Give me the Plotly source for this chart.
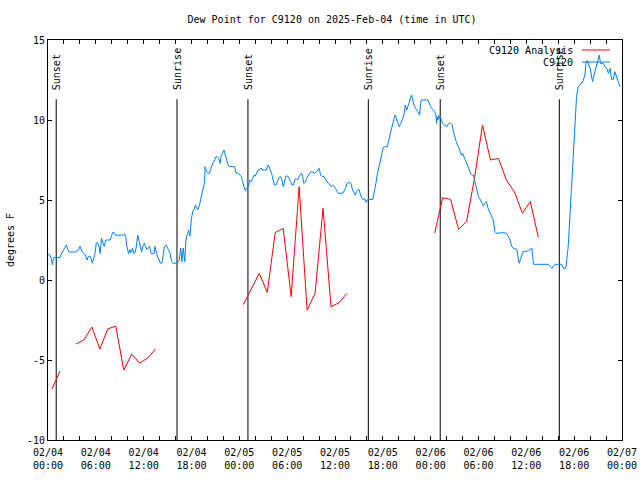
import pandas as pd
import plotly.graph_objects as go

BASE = pd.Timestamp("2025-02-04 00:00")

# ---- Analysis (red) : hours after 02/04 00:00 UTC, None = gap
an_hours = [0.5, 1.5, None,
            3.5, 4.5, 5.5, 6.5, 7.5, 8.5, 9.5, 10.5, 11.5, 12.5, 13.5, None,
            24.5, 25.5, 26.5, 27.5, 28.5, 29.5, 30.5, 31.5, 32.5, 33.5, 34.5, 35.5, 36.5, 37.5, None,
            48.5, 49.5, 50.5, 51.5, 52.5, 53.5, 54.5, 55.5, 56.5, 57.5, 58.5, 59.5, 60.5, 61.5]
an_vals = [-6.8, -5.7, None,
           -4.0, -3.75, -2.94, -4.31, -3.06, -2.88, -5.63, -4.63, -5.19, -4.88, -4.31, None,
           -1.54, -0.55, 0.42, -0.77, 2.96, 3.23, -1.04, 5.83, -1.88, -0.83, 4.48, -1.67, -1.42, -0.83, None,
           2.92, 5.14, 5.04, 3.17, 3.64, 6.36, 9.69, 7.5, 7.6, 6.25, 5.52, 4.17, 4.9, 2.67]

# ---- Observations (blue)
ob_hours = [0.0, 0.25, 0.4, 0.55, 0.7, 1.1, 1.5, 1.6, 1.8, 2.05, 2.3, 2.5, 2.65, 3.0, 3.4, 3.8, 4.0, 4.1,
            4.3, 4.55, 4.7, 4.9, 5.05, 5.25, 5.4, 5.55, 5.7, 5.9, 6.05, 6.2, 6.4, 6.55, 6.7, 6.9, 7.05,
            7.25, 7.4, 7.8, 8.0, 8.15, 8.3, 8.5, 8.8, 9.4, 9.6, 9.75, 9.9, 10.1, 10.25, 10.4, 10.6, 10.75,
            10.9, 11.05, 11.25, 11.4, 11.6, 11.75, 11.9, 12.1, 12.25, 12.4, 12.6, 12.75, 12.95, 13.1,
            13.3, 13.4, 13.6, 13.75, 13.95, 14.1, 14.3, 14.45, 14.6, 14.8, 14.95, 15.1, 15.3, 15.5,
            15.65, 16.2, 16.45, 16.65, 16.8, 16.97, 17.15, 17.3, 17.5, 17.65, 17.7, 17.8, 17.97, 18.15,
            18.3, 18.5, 18.65, 18.8, 19.0, 19.15, 19.3, 19.5, 19.65, 19.7, 19.9, 20.07, 20.25, 20.4,
            20.57, 20.7, 20.9, 21.07, 21.25, 21.4, 21.6, 21.7, 21.9, 22.07, 22.25, 22.4, 22.6, 22.75,
            23.25, 23.4, 23.6, 23.9, 24.08, 24.25, 24.4, 24.6, 24.75, 24.9, 25.1, 25.25, 25.35, 25.5,
            25.7, 25.85, 26.0, 26.2, 26.35, 26.5, 26.7, 26.85, 27.4, 27.6, 27.75, 27.95, 28.1, 28.25,
            28.4, 28.6, 28.75, 29.0, 29.2, 29.35, 29.5, 29.7, 29.85, 30.05, 30.25, 30.45, 30.6, 30.8,
            30.95, 31.1, 31.3, 31.45, 31.6, 31.8, 31.95, 32.1, 32.3, 32.45, 32.6, 32.8, 32.95, 33.1,
            33.3, 33.45, 33.7, 33.9, 34.0, 34.2, 34.4, 34.55, 34.7, 34.9, 35.0, 35.2, 35.4, 35.5, 35.7,
            35.85, 36.05, 36.2, 36.4, 37.0, 37.1, 37.3, 37.5, 37.6, 37.9, 38.05, 38.2, 38.4, 38.55,
            38.7, 38.9, 39.05, 39.2, 39.4, 39.55, 39.7, 39.9, 40.05, 40.2, 40.75, 41.0, 41.15, 41.3,
            41.45, 41.6, 41.75, 41.9, 42.05, 42.2, 42.55, 42.75, 42.9, 43.05, 43.25, 43.4, 43.55,
            43.75, 43.9, 44.05, 44.25, 44.4, 44.6, 44.75, 44.8, 45.0, 45.15, 45.3, 45.5, 45.6, 45.75,
            45.9, 46.1, 46.25, 46.4, 46.6, 46.75, 46.8, 47.65, 47.8, 48.0, 48.15, 48.3, 48.5, 48.65,
            48.75, 48.8, 48.9, 49.0, 49.1, 49.2, 49.35, 49.5, 49.7, 49.85, 50.0, 50.2, 50.3, 50.5,
            50.7, 50.85, 51.0, 51.2, 51.35, 51.5, 51.7, 51.85, 52.0, 52.2, 52.35, 52.5, 52.7, 52.85,
            53.0, 53.2, 53.35, 53.5, 53.65, 53.8, 54.0, 54.2, 54.4, 54.6, 54.8, 55.0, 55.2, 55.45,
            55.65, 55.85, 56.05, 56.3, 57.1, 57.5, 57.75, 57.95, 58.17, 58.4, 58.8, 59.1, 59.3, 59.6,
            60.25, 60.5, 60.7, 60.9, 62.75, 63.2, 63.6, 64.45, 64.65, 64.95, 65.05, 65.25, 65.5, 65.7,
            65.9, 66.1, 66.3, 66.5, 66.9, 67.15, 67.35, 67.5, 67.65, 68.0, 68.3, 68.6, 68.9, 69.15,
            69.3, 69.65, 69.85, 70.1, 70.3, 70.5, 70.7, 70.9, 71.1, 71.3, 71.5, 71.75]
ob_vals = [1.6, 1.55, 1.35, 0.95, 1.4, 1.4, 1.4, 1.55, 1.75, 2.0, 2.2, 1.9, 1.75, 1.75, 1.75, 1.85, 2.1, 2.0,
           1.75, 1.65, 1.55, 1.25, 1.45, 1.5, 1.35, 1.05, 1.25, 1.65, 2.3, 2.35, 2.1, 1.65, 2.6, 2.3, 2.1,
           2.5, 2.5, 2.5, 2.8, 3.0, 2.95, 2.8, 2.8, 2.8, 2.9, 2.7, 2.1, 1.65, 1.9, 1.7, 2.0, 1.65,
           1.7, 2.0, 2.8, 2.5, 2.1, 1.75, 2.1, 2.3, 2.1, 1.9, 2.0, 2.1, 1.65, 1.65,
           1.65, 2.1, 1.65, 1.45, 1.25, 1.05, 1.05, 1.45, 2.1, 2.2, 2.0, 1.9, 1.7, 1.15,
           1.05, 1.05, 1.2, 2.0, 1.15, 2.0, 1.15, 2.5, 2.9, 3.1, 2.95, 2.75, 3.75, 4.27,
           4.38, 4.69, 4.48, 4.38, 4.69, 5.0, 5.42, 5.73, 6.15, 7.08, 6.77, 6.67, 6.67, 6.92,
           7.19, 7.33, 7.5, 7.71, 7.71, 7.6, 7.29, 7.71, 7.92, 8.13, 7.8, 7.5, 7.19, 7.1,
           7.1, 7.08, 6.67, 6.67, 6.56, 6.46, 6.15, 5.83, 5.58, 5.73, 5.83, 6.08, 6.25, 6.15,
           6.35, 6.56, 6.5, 6.67, 6.88, 6.88, 7.0, 6.88, 6.88, 7.19, 7.08, 6.77, 6.56, 6.2,
           5.94, 5.94, 6.15, 6.42, 6.46, 6.25, 5.83, 6.25, 6.5, 6.5, 6.35, 6.15, 5.94, 5.94,
           6.25, 6.35, 6.25, 6.42, 6.56, 6.67, 6.46, 6.04, 6.15, 6.35, 6.46, 6.67, 6.77, 6.77,
           6.71, 6.67, 6.77, 6.88, 6.98, 6.56, 6.46, 6.5, 6.35, 6.25, 6.15, 6.04, 5.88, 5.83, 5.94,
           5.88, 5.73, 5.58, 5.42, 5.42, 5.52, 5.73, 6.04, 6.08, 6.08, 5.94, 5.63, 5.42, 5.31,
           5.52, 5.67, 5.63, 5.31, 5.1, 5.0, 5.1, 4.85, 5.0, 5.04, 5.04, 5.6, 6.1, 6.6,
           6.9, 7.2, 7.6, 7.92, 8.29, 8.33, 8.33, 8.75, 9.17, 9.48, 9.9, 10.1, 10.31,
           10.0, 9.79, 9.58, 9.79, 10.0, 10.21, 10.63, 10.94, 10.63, 10.83, 11.15, 11.35, 11.56, 11.25,
           10.94, 10.73, 10.63, 10.52, 10.31, 10.83, 11.25, 11.25, 11.04, 10.83, 10.73, 10.63, 10.52, 10.31,
           9.79, 10.21, 10.0, 10.31, 10.1, 10.21, 10.0, 9.79, 9.69, 9.69, 9.58, 9.69, 9.79, 9.79,
           9.69, 9.27, 8.96, 8.65, 8.44, 8.33, 8.02, 7.8, 7.92, 7.71, 7.5, 7.29, 7.08, 6.88,
           6.67, 6.56, 6.56, 6.25, 5.94, 5.63, 5.21, 5.05, 4.79, 4.63, 4.79, 4.9, 4.48, 4.17,
           3.96, 3.75, 3.02, 2.92, 2.96, 2.92, 2.71, 2.5, 2.08, 1.98, 1.92, 1.04, 1.35, 1.77,
           1.83, 1.9, 1.98, 0.98, 0.98, 0.73, 0.98, 0.98, 0.73, 0.73, 1.25, 2.08, 4.27, 6.25,
           7.92, 9.79, 11.46, 12.08, 12.29, 12.5, 12.81, 13.65, 13.71, 13.23, 12.4, 13.02, 13.54, 14.06,
           13.54, 13.54, 13.33, 13.23, 12.92, 13.23, 12.54, 12.54, 13.02, 12.71, 12.5, 12.08]

# ---- Sun events
sun_labels = ["Sunset", "Sunrise", "Sunset", "Sunrise", "Sunset", "Sunrise"]
sun_hours = [1.03, 16.18, 25.08, 40.18, 49.2, 64.14]
sun_line_top = 11.3
sun_text_base = 11.75

# ---- Axes ticks
x_tick_hours = [0, 6, 12, 18, 24, 30, 36, 42, 48, 54, 60, 66, 72]
x_tick_text = ["02/04<br>00:00", "02/04<br>06:00", "02/04<br>12:00", "02/04<br>18:00",
               "02/05<br>00:00", "02/05<br>06:00", "02/05<br>12:00", "02/05<br>18:00",
               "02/06<br>00:00", "02/06<br>06:00", "02/06<br>12:00", "02/06<br>18:00",
               "02/07<br>00:00"]
y_tick_vals = [-10, -5, 0, 5, 10, 15]
y_tick_text = ["-10", "-5", "0", "5", "10", "15"]

def to_time(hours):
    return [None if h is None else BASE + pd.Timedelta(hours=h) for h in hours]

FONT = "DejaVu Sans Mono"
RED = "#ff0000"
BLUE = "#0080ff"

fig = go.Figure()

# sun event lines
sx, sy = [], []
for h in sun_hours:
    t = BASE + pd.Timedelta(hours=h)
    sx += [t, t, None]
    sy += [-10, sun_line_top, None]
fig.add_trace(go.Scatter(x=sx, y=sy, mode="lines", line=dict(color="black", width=1),
                         showlegend=False, hoverinfo="skip"))

fig.add_trace(go.Scatter(x=to_time(an_hours), y=an_vals, mode="lines", name="C9120 Analysis",
                         line=dict(color=RED, width=1), connectgaps=False, showlegend=False))
fig.add_trace(go.Scatter(x=to_time(ob_hours), y=ob_vals, mode="lines", name="C9120",
                         line=dict(color=BLUE, width=1), showlegend=False))

annotations = []
for lab, h in zip(sun_labels, sun_hours):
    annotations.append(dict(x=BASE + pd.Timedelta(hours=h), y=sun_text_base, xref="x", yref="y",
                            text=lab, textangle=-90, showarrow=False, xanchor="center",
                            yanchor="bottom", font=dict(family=FONT, size=10, color="black")))

# manual gnuplot-style key (text left of sample)
key_names = ["C9120 Analysis", "C9120"]
key_colors = [RED, BLUE]
key_y = [0.975, 0.945]
shapes = []
for name, col, ky in zip(key_names, key_colors, key_y):
    annotations.append(dict(x=0.9185, y=ky, xref="paper", yref="paper", text=name, showarrow=False,
                            xanchor="right", yanchor="middle",
                            font=dict(family=FONT, size=10, color="black")))
    shapes.append(dict(type="line", xref="paper", yref="paper", x0=0.930, x1=0.979, y0=ky, y1=ky,
                       line=dict(color=col, width=1)))

annotations.append(dict(x=-0.066, y=0.5, xref="paper", yref="paper", text="degrees F",
                        textangle=-90, showarrow=False, xanchor="center", yanchor="middle",
                        font=dict(family=FONT, size=10, color="black")))

fig.update_layout(
    width=640, height=480,
    margin=dict(l=48, r=18, t=40, b=40, autoexpand=False),
    paper_bgcolor="white", plot_bgcolor="white",
    font=dict(family=FONT, size=10, color="black"),
    title=dict(text="Dew Point for C9120 on 2025-Feb-04 (time in UTC)", x=0.4948, xref="paper",
               xanchor="center", y=1 - 19 / 480, yanchor="middle",
               font=dict(family=FONT, size=10, color="black")),
    annotations=annotations, shapes=shapes,
    showlegend=False,
)
fig.update_xaxes(range=[BASE, BASE + pd.Timedelta(hours=72)],
                 tickvals=to_time(x_tick_hours), ticktext=x_tick_text,
                 ticks="inside", ticklen=4, tickcolor="black", showgrid=False, zeroline=False,
                 showline=True, linecolor="black", linewidth=1, mirror="ticks",
                 automargin=False, ticklabelstandoff=3,
                 minor=dict(dtick=2 * 3600 * 1000, tick0=BASE, ticks="inside", ticklen=4,
                            tickcolor="black", showgrid=False),
                 tickfont=dict(family=FONT, size=10, color="black"))
fig.update_yaxes(range=[-10, 15], tickvals=y_tick_vals, ticktext=y_tick_text,
                 ticks="inside", ticklen=4, tickcolor="black", showgrid=False, zeroline=False,
                 showline=True, linecolor="black", linewidth=1, mirror="ticks",
                 automargin=False,
                 tickfont=dict(family=FONT, size=10, color="black"))

fig.write_html("out.html", config={"displayModeBar": False},
               post_script="document.body.style.margin='0';document.body.style.padding='0';")
